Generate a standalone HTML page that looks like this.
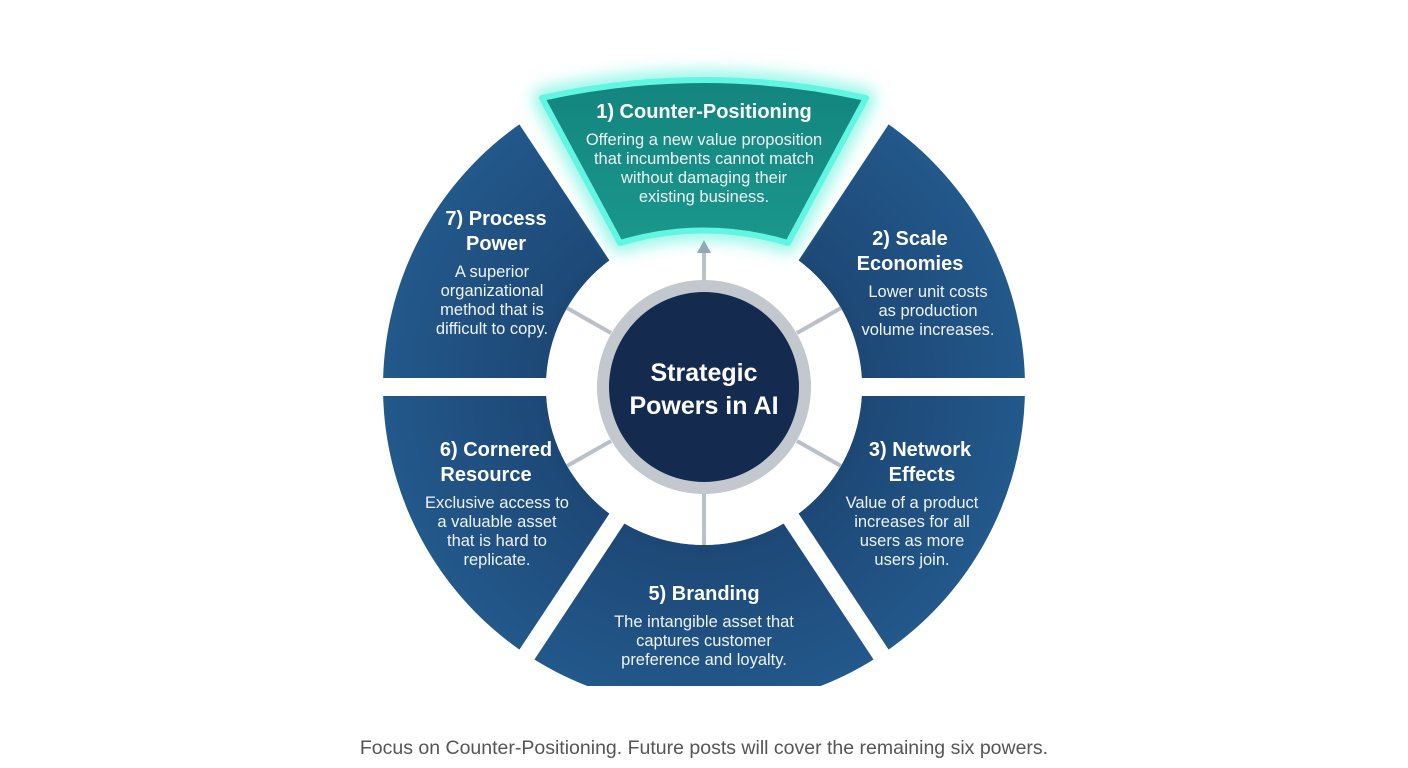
<!DOCTYPE html>
<html><head><meta charset="utf-8"><style>
body{margin:0;background:#fff;}
svg{display:block;font-family:"Liberation Sans",sans-serif;}
.t{fill:#fff;font-weight:bold;font-size:20px;text-anchor:middle;}
.b{fill:#eef3f8;font-size:16.5px;text-anchor:middle;}
</style></head><body>
<svg width="1408" height="768" viewBox="0 0 1408 768">
<defs>
<radialGradient id="nv" cx="704" cy="387" r="321" gradientUnits="userSpaceOnUse">
<stop offset="0.5" stop-color="#1d4876"/><stop offset="1" stop-color="#23588b"/></radialGradient>
<linearGradient id="tl" x1="0" y1="0" x2="0" y2="1">
<stop offset="0" stop-color="#13857e"/><stop offset="1" stop-color="#1a978c"/></linearGradient>
<clipPath id="cp"><rect x="383" y="0" width="642" height="686"/></clipPath>
<filter id="gl" x="-20%" y="-30%" width="140%" height="160%"><feGaussianBlur stdDeviation="8"/></filter>
</defs>
<g clip-path="url(#cp)">
<path d="M881.2,119.3 A321,321 0 1 1 526.8,119.3 L616.8,255.2 A158,158 0 1 0 791.2,255.2 Z" fill="url(#nv)"/>
</g>
<g stroke="#fff" stroke-width="18">
<line x1="704" y1="387" x2="902.7" y2="86.8"/>
<line x1="704" y1="387" x2="505.3" y2="86.8"/>
<line x1="704" y1="387" x2="1070" y2="387"/>
<line x1="704" y1="387" x2="338" y2="387"/>
<line x1="704" y1="387" x2="902.7" y2="687.2"/>
<line x1="704" y1="387" x2="505.3" y2="687.2"/>
</g>
<circle cx="704" cy="387" r="158" fill="#fff"/>
<g stroke="#b9c0c8" stroke-width="4">
<line x1="797" y1="333" x2="841" y2="308"/>
<line x1="797" y1="441" x2="841" y2="466"/>
<line x1="704" y1="494" x2="704" y2="545"/>
<line x1="611" y1="441" x2="567" y2="466"/>
<line x1="611" y1="333" x2="567" y2="308"/>
<line x1="704" y1="280" x2="704" y2="250"/>
</g>
<polygon points="704,240 697,253 711,253" fill="#9aa3ad"/>
<path d="M542,98 Q704,62 866,98 L788,243 Q704,218 620,243 Z" fill="none" stroke="#40f0d8" stroke-width="18" stroke-linejoin="round" filter="url(#gl)" opacity="0.6"/>
<path d="M542,98 Q704,62 866,98 L788,243 Q704,218 620,243 Z" fill="url(#tl)" stroke="#62f5e2" stroke-width="6" stroke-linejoin="round"/>
<circle cx="704" cy="387" r="107" fill="#c3c8ce"/>
<circle cx="704" cy="387" r="95" fill="#142b4f"/>
<text x="704" y="381" class="t" style="font-size:25px">Strategic</text>
<text x="704" y="414" class="t" style="font-size:25px">Powers in AI</text>

<text x="704" y="118" class="t">1) Counter-Positioning</text>
<text class="b" x="704" y="145">Offering a new value proposition</text>
<text class="b" x="704" y="164">that incumbents cannot match</text>
<text class="b" x="704" y="183">without damaging their</text>
<text class="b" x="704" y="202">existing business.</text>

<text x="496" y="225" class="t">7) Process</text>
<text x="496" y="250" class="t">Power</text>
<text class="b" x="492" y="277">A superior</text>
<text class="b" x="492" y="296">organizational</text>
<text class="b" x="492" y="315">method that is</text>
<text class="b" x="492" y="334">difficult to copy.</text>

<text x="910" y="245" class="t">2) Scale</text>
<text x="910" y="270" class="t">Economies</text>
<text class="b" x="928" y="297">Lower unit costs</text>
<text class="b" x="928" y="316">as production</text>
<text class="b" x="928" y="335">volume increases.</text>

<text x="496" y="456" class="t">6) Cornered</text>
<text x="486" y="481" class="t">Resource</text>
<text class="b" x="497" y="508">Exclusive access to</text>
<text class="b" x="497" y="527">a valuable asset</text>
<text class="b" x="497" y="546">that is hard to</text>
<text class="b" x="497" y="565">replicate.</text>

<text x="920" y="456" class="t">3) Network</text>
<text x="922" y="481" class="t">Effects</text>
<text class="b" x="912" y="508">Value of a product</text>
<text class="b" x="912" y="527">increases for all</text>
<text class="b" x="912" y="546">users as more</text>
<text class="b" x="912" y="565">users join.</text>

<text x="704" y="600" class="t">5) Branding</text>
<text class="b" x="704" y="627">The intangible asset that</text>
<text class="b" x="704" y="646">captures customer</text>
<text class="b" x="704" y="665">preference and loyalty.</text>

<text x="704" y="754" text-anchor="middle" font-size="19.5" fill="#555">Focus on Counter-Positioning. Future posts will cover the remaining six powers.</text>
</svg>
</body></html>
